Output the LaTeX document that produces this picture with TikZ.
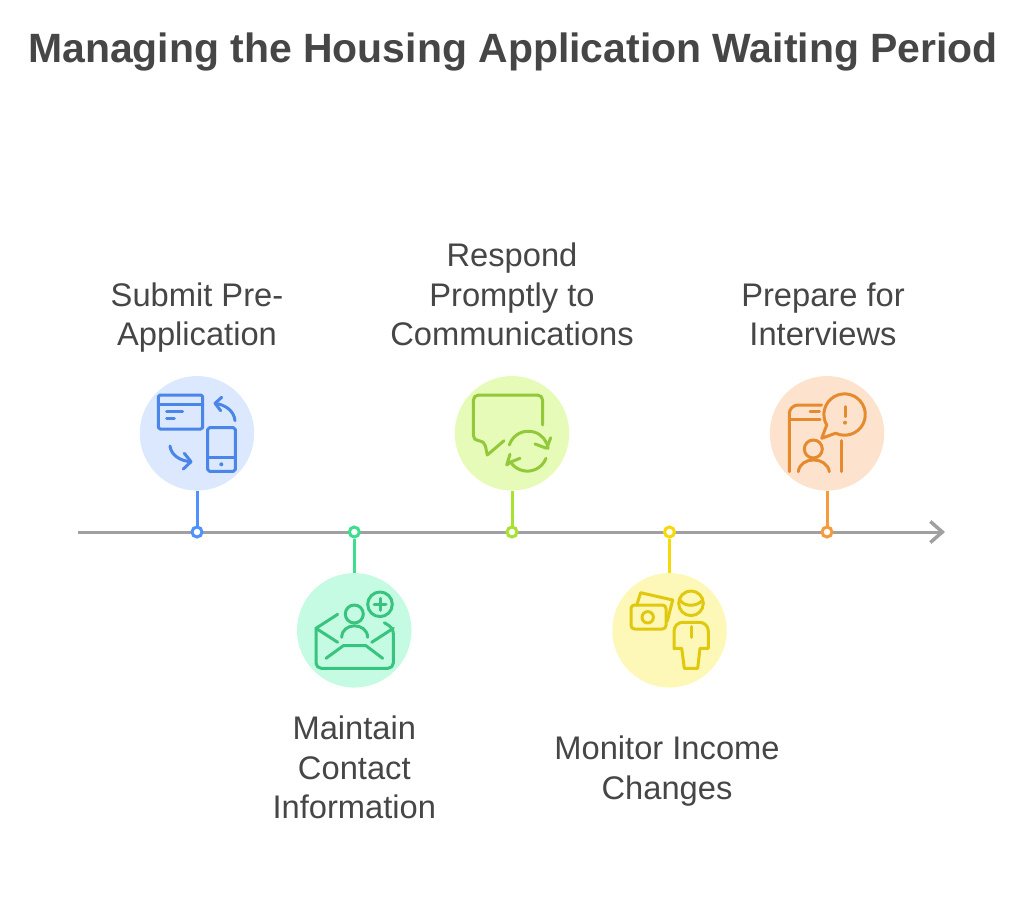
\documentclass[tikz,border=0pt]{standalone}
\usepackage{fontspec}
\usepackage{xcolor}
\setmainfont{Liberation Sans}
\usetikzlibrary{arrows.meta, positioning}
\definecolor{textgray}{RGB}{70, 70, 70}
\definecolor{axisgray}{RGB}{160, 160, 160}
\definecolor{blueline}{RGB}{79, 146, 255}
\definecolor{blueicon}{RGB}{74, 134, 232}
\definecolor{bluefill}{RGB}{219, 232, 254}
\definecolor{greenline}{RGB}{63, 221, 142}
\definecolor{greenicon}{RGB}{56, 196, 127}
\definecolor{greenfill}{RGB}{197, 251, 227}
\definecolor{limeline}{RGB}{166, 226, 46}
\definecolor{limeicon}{RGB}{147, 200, 58}
\definecolor{limefill}{RGB}{230, 251, 184}
\definecolor{yellowline}{RGB}{245, 217, 10}
\definecolor{yellowicon}{RGB}{224, 200, 15}
\definecolor{yellowfill}{RGB}{254, 248, 184}
\definecolor{orangeline}{RGB}{247, 154, 59}
\definecolor{orangeicon}{RGB}{229, 138, 46}
\definecolor{orangefill}{RGB}{253, 227, 205}

\begin{document}
\begin{tikzpicture}[x=0.02cm, y=-0.02cm,
    title/.style={font=\fontsize{23.3}{30}\selectfont\bfseries, text=textgray, inner sep=0pt},
    label/.style={font=\fontsize{18.6}{22.4}\selectfont, text=textgray, align=center, inner sep=0pt},
    bubble/.style={circle, minimum size=2.29cm, inner sep=0pt},
    dot/.style={circle, draw=#1, fill=white, line width=0.06cm, minimum size=0.2cm, inner sep=0pt},
    stem/.style={line width=0.06cm, color=#1},
    icon/.style={line width=0.06cm, color=#1, line cap=round, line join=round},
    axis/.style={line width=0.06cm, color=axisgray, -{Straight Barb[length=0.24cm, width=0.42cm, line width=0.07cm]}}]
    \useasboundingbox (0,0) rectangle (1024,903);

    \node[title] (heading) at (513,52) {Managing the Housing Application Waiting Period};

    % Timeline
    \coordinate (start) at (78,532);
    \coordinate (end) at (945,532);
    \draw[axis] (start) -- (end);

    \node[dot=blueline] (dot1) at (197,532) {};
    \node[dot=greenline] (dot2) at (354.3,532) {};
    \node[dot=limeline] (dot3) at (512,532) {};
    \node[dot=yellowline] (dot4) at (669.5,532) {};
    \node[dot=orangeline] (dot5) at (827,532) {};

    % Steps
    \node[bubble, fill=bluefill] (bubble1) at (197,433.3) {};
    \node[bubble, fill=greenfill] (bubble2) at (354.3,630.3) {};
    \node[bubble, fill=limefill] (bubble3) at (512,433.3) {};
    \node[bubble, fill=yellowfill] (bubble4) at (669.5,630.3) {};
    \node[bubble, fill=orangefill] (bubble5) at (827,433.3) {};

    \node[label, above=0.46cm of bubble1] (text1) {Submit Pre-\\Application};
    \node[label, below=0.56cm of bubble2] (text2) {Maintain\\Contact\\Information};
    \node[label, above=0.59cm of bubble3] (text3) {Respond\\Promptly to\\Communications};
    \node[label, below=0.96cm of bubble4, xshift=-0.05cm] (text4) {Monitor Income\\Changes};
    \node[label, above=0.59cm of bubble5, xshift=-0.08cm] (text5) {Prepare for\\Interviews};

    % Relations
    \draw[stem=blueline] (bubble1) -- (dot1);
    \draw[stem=greenline] (bubble2) -- (dot2);
    \draw[stem=limeline] (bubble3) -- (dot3);
    \draw[stem=yellowline] (bubble4) -- (dot4);
    \draw[stem=orangeline] (bubble5) -- (dot5);

    % Form and phone
    \draw[icon=blueicon, rounded corners=1pt] (158.3,395) rectangle (202.7,429);
    \draw[icon=blueicon] (158.3,404.3) -- (202.7,404.3);
    \draw[icon=blueicon] (166.7,411.7) -- (182.7,411.7);
    \draw[icon=blueicon] (166.7,418.3) -- (174.3,418.3);
    \draw[icon=blueicon, rounded corners=1pt] (207.7,427.7) rectangle (235.3,471.3);
    \draw[icon=blueicon] (207.7,457.3) -- (235.3,457.3);
    \fill[blueicon] (221.3,464.3) circle (2);
    \draw[icon=blueicon] (235,420.7) .. controls (234,411) and (226,405) .. (215,403.3);
    \draw[icon=blueicon] (221.7,397.3) -- (215,403.3) -- (220.7,410.7);
    \draw[icon=blueicon] (170,446) .. controls (171,455) and (180,461) .. (191,461.7);
    \draw[icon=blueicon] (184.3,453.3) -- (191,461.7) -- (183.3,469);

    % Envelope
    \draw[icon=greenicon] (337.7,614.3) -- (316,628.3) -- (316,664) [rounded corners=3pt] -- (316,668.3) -- (393.3,668.3) -- (393.3,628.3) [sharp corners] -- (384.3,622.7);
    \draw[icon=greenicon] (316,628.3) -- (337.7,642.3);
    \draw[icon=greenicon] (393.3,628.3) -- (371.7,642.3);
    \draw[icon=greenicon] (326,658.3) -- (343.3,645.7) -- (366,645.7) -- (382.7,658.3);
    \draw[icon=greenicon] (354.3,614) circle (9);
    \draw[icon=greenicon] (341.7,637.3) .. controls (342,622) and (367,622) .. (367.7,637.3);
    \draw[icon=greenicon] (380,604.3) circle (12.3);
    \draw[icon=greenicon] (374,604.3) -- (386,604.3);
    \draw[icon=greenicon] (380,598.3) -- (380,610.3);

    % Speech and refresh
    \draw[icon=limeicon, rounded corners=3pt] (542.7,425) -- (542.7,395) -- (473.3,395) -- (473.3,440.7) -- (484.3,440.7) [sharp corners] -- (487.3,455) -- (504,440.7);
    \draw[icon=limeicon] (509.3,445) arc[start angle=198, end angle=352, radius=20];
    \draw[icon=limeicon] (535,444) -- (546.7,448.3) -- (550.7,437.7);
    \draw[icon=limeicon] (546,458.3) arc[start angle=21, end angle=146, radius=20];
    \draw[icon=limeicon] (520,458.3) -- (510.7,462) -- (506.7,465) -- (510,454.3);

    % Cash and person
    \draw[icon=yellowicon, rounded corners=2pt] (631,605) rectangle (666,629);
    \draw[icon=yellowicon] (647.7,617.3) circle (5.7);
    \draw[icon=yellowicon] (636.7,605) -- (640.7,592.7) -- (672.7,600) -- (667.3,621);
    \draw[icon=yellowicon] (691,603.3) circle (12.3);
    \draw[icon=yellowicon] (680,600) .. controls (684,607) and (697,607) .. (702.7,600);
    \draw[icon=yellowicon, rounded corners=5pt] (691,622.3) -- (674,622.3) -- (674,640) [sharp corners] -- (674,648.3) -- (681.7,648.3) -- (684.3,668.3) -- (697.7,668.3) -- (700,648.3) -- (708.3,648.3) -- (708.3,640) [rounded corners=5pt] -- (708.3,622.3) -- (691,622.3);
    \draw[icon=yellowicon] (691,626.7) -- (691,637.3);

    % Interview
    \draw[icon=orangeicon, rounded corners=5pt] (789.3,471.7) -- (789.3,405) -- (821.7,405);
    \draw[icon=orangeicon] (789.3,419.3) -- (820,419.3);
    \draw[icon=orangeicon] (810,411.7) -- (819.3,411.7);
    \draw[icon=orangeicon] (841.7,440.7) -- (841.7,471.7);
    \draw[icon=orangeicon] (826.7,425) arc[start angle=149.7, end angle=475.7, radius=20.7] -- (821.7,438.3) -- cycle;
    \draw[icon=orangeicon] (845,406.7) -- (845,416.7);
    \fill[orangeicon] (845,422.7) circle (2);
    \draw[icon=orangeicon] (813.3,449) circle (9);
    \draw[icon=orangeicon] (798.3,471.7) .. controls (800,456) and (827,456) .. (829.3,471.7);
\end{tikzpicture}
\end{document}
